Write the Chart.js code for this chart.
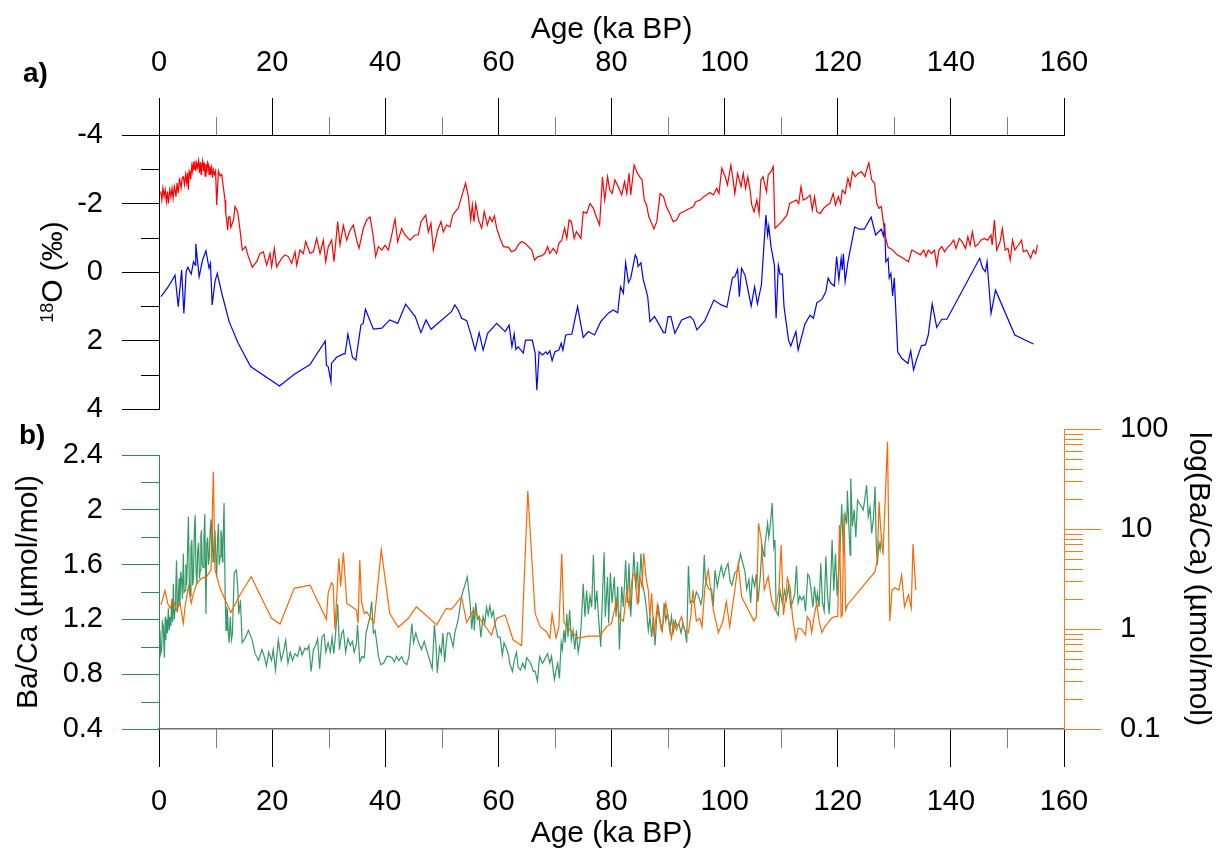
<!DOCTYPE html>
<html>
<head>
<meta charset="utf-8">
<script src="https://cdn.jsdelivr.net/npm/chart.js@4.4.1/dist/chart.umd.min.js"></script>
<style>
  html, body { margin: 0; padding: 0; background: #fff; }
  #wrap { position: relative; width: 1218px; height: 852px; }
  #wrap canvas { position: absolute; left: 0; top: 0; }
</style>
</head>
<body>
<div id="wrap">
  <canvas id="panelA" width="1218" height="852"></canvas>
  <canvas id="panelB" width="1218" height="852"></canvas>
</div>
<script>
const FONT = '"Liberation Sans", Arial, sans-serif'

// axes
const ageTicks = [0, 20, 40, 60, 80, 100, 120, 140, 160]
const ageMinor = [10, 30, 50, 70, 90, 110, 130, 150]
const d18oTicks = [-4, -2, 0, 2, 4]
const d18oMinor = [-3, -1, 1, 3]
const bacaTicks = [0.4, 0.8, 1.2, 1.6, 2.0, 2.4]
const bacaMinor = [0.6, 1.0, 1.4, 1.8, 2.2]
const logTicks = [0.1, 1, 10, 100]
const logMinor = [0.2, 0.3, 0.4, 0.5, 0.6, 0.7, 0.8, 0.9, 2, 3, 4, 5, 6, 7, 8, 9, 20, 30, 40, 50, 60, 70, 80, 90]

// a) d18O, red record  [age ka BP, permil]
const redSeries = [
  [0.3,-2.35],[0.5,-2.1],[0.7,-2.45],[0.9,-2.2],[1.1,-2.4],[1.3,-2.05],[1.5,-2.35],[1.65,-2.0],[1.9,-2.4],[2.1,-2.2],
  [2.3,-2.45],[2.5,-2.15],[2.7,-2.5],[2.83,-2.39],[3.0,-2.2],[3.2,-2.6],[3.4,-2.3],[3.6,-2.7],[3.71,-2.64],[3.9,-2.45],
  [4.1,-2.75],[4.3,-2.78],[4.5,-2.55],[4.7,-2.85],[4.9,-2.6],[5.05,-2.9],[5.19,-2.4],[5.35,-2.95],[5.48,-2.89],[5.6,-2.7],
  [5.8,-3.1],[5.95,-2.95],[6.07,-3.22],[6.2,-3.0],[6.35,-3.25],[6.5,-2.95],[6.66,-3.18],[6.8,-3.05],[7.0,-3.25],[7.15,-2.9],
  [7.3,-3.2],[7.45,-2.85],[7.54,-3.1],[7.7,-3.25],[7.85,-2.95],[8.0,-3.2],[8.15,-2.8],[8.3,-3.15],[8.45,-2.9],[8.6,-3.2],
  [8.72,-3.15],[8.85,-2.85],[9.0,-3.1],[9.15,-2.9],[9.3,-3.05],[9.45,-2.75],[9.61,-2.98],[9.8,-2.85],[10.0,-2.95],[10.2,-1.96],
  [10.5,-2.95],[10.8,-2.8],[11.08,-2.85],[11.37,-2.49],[11.67,-2.1],[11.8,-1.7],[11.96,-1.52],[12.14,-1.23],[12.3,-1.6],[12.55,-1.61],
  [12.7,-1.3],[12.96,-1.42],[13.2,-1.55],[13.44,-1.91],[13.91,-1.76],[14.32,-1.23],[14.73,-0.64],[15.32,-0.74],[15.8,-0.45],[16.5,-0.14],
  [17.27,-0.3],[17.86,-0.54],[18.45,-0.59],[19.04,-0.2],[19.63,-0.54],[19.92,-0.16],[20.39,-0.69],[20.8,-0.15],[21.69,-0.4],[22.28,-0.5],
  [22.87,-0.45],[23.46,-0.25],[24.05,-0.59],[24.34,-0.2],[24.93,-0.64],[25.52,-0.54],[25.93,-0.89],[26.7,-0.54],[27.29,-0.59],[27.88,-0.98],
  [28.47,-0.54],[29.05,-0.93],[29.47,-0.3],[29.93,-0.74],[30.53,-0.93],[30.94,-0.3],[31.59,-1.47],[32.0,-0.79],[32.59,-1.36],[33.18,-0.93],
  [33.77,-1.22],[34.36,-1.37],[34.95,-0.93],[35.36,-0.69],[36.12,-1.27],[36.72,-1.52],[37.31,-1.61],[37.89,-1.03],[38.31,-0.45],[38.78,-0.74],
  [39.37,-0.64],[39.96,-0.78],[40.55,-0.64],[41.14,-1.08],[41.73,-1.55],[42.2,-0.88],[42.9,-1.27],[43.49,-1.08],[44.38,-0.93],[45.26,-1.08],
  [45.85,-1.08],[46.32,-1.47],[47.15,-1.66],[47.62,-1.17],[48.09,-1.42],[48.5,-0.64],[49.27,-1.22],[49.86,-1.47],[50.27,-1.17],[50.86,-1.37],
  [51.45,-1.32],[51.92,-1.66],[52.62,-1.81],[52.9,-1.86],[53.5,-2.2],[54.2,-2.59],[54.7,-2.2],[55.1,-1.52],[55.4,-1.96],[55.7,-1.47],
  [56.0,-2.0],[56.5,-1.52],[57.05,-1.28],[57.5,-1.76],[58.05,-1.37],[58.5,-1.61],[58.9,-1.47],[59.3,-1.64],[59.7,-1.28],[60.3,-0.98],
  [60.9,-0.74],[61.8,-0.72],[62.3,-0.59],[63.0,-0.64],[63.5,-0.79],[64.1,-0.89],[64.7,-0.84],[65.3,-0.74],[65.9,-0.64],[66.4,-0.35],
  [67.0,-0.45],[67.6,-0.47],[68.2,-0.54],[68.7,-0.74],[69.1,-0.54],[69.7,-0.69],[70.3,-0.54],[70.7,-0.84],[71.2,-0.93],[71.7,-1.28],
  [72.1,-0.98],[72.5,-1.52],[72.9,-1.47],[73.4,-0.98],[73.8,-1.18],[74.6,-0.98],[75.0,-1.76],[75.6,-1.71],[76.2,-2.0],[76.8,-1.86],
  [77.4,-1.57],[77.9,-1.37],[78.4,-2.78],[78.8,-2.1],[79.3,-2.78],[79.7,-2.39],[80.1,-2.29],[80.6,-2.69],[81.2,-2.49],[81.8,-2.25],
  [82.3,-2.64],[82.7,-2.29],[83.1,-2.88],[83.4,-2.25],[84.0,-3.12],[84.6,-2.88],[85.0,-2.78],[85.4,-2.69],[85.8,-2.1],[86.2,-1.96],
  [86.6,-1.61],[87.1,-1.42],[87.5,-1.26],[88.0,-1.47],[88.6,-2.29],[89.2,-2.2],[89.7,-1.91],[90.3,-1.71],[90.9,-1.47],[91.5,-1.52],
  [92.1,-1.71],[92.7,-1.76],[93.3,-1.81],[93.9,-1.86],[94.5,-1.91],[94.9,-2.05],[95.7,-2.1],[96.3,-2.2],[96.8,-2.25],[97.4,-2.32],
  [98.0,-2.25],[98.6,-2.44],[99.0,-2.29],[99.5,-3.03],[100.1,-2.78],[100.5,-2.54],[101.1,-3.12],[101.5,-2.69],[101.8,-2.29],[102.3,-2.88],
  [102.9,-2.49],[103.3,-2.88],[103.7,-2.44],[104.1,-2.78],[104.5,-2.39],[104.8,-1.96],[105.2,-1.76],[105.7,-2.1],[106.1,-1.71],[106.4,-2.69],
  [106.8,-2.78],[107.4,-2.34],[107.7,-2.83],[108.2,-2.93],[108.6,-3.08],[108.9,-1.28],[109.5,-1.37],[110.1,-1.47],[111.0,-1.66],[111.5,-2.0],
  [112.1,-2.05],[112.7,-2.1],[113.1,-2.0],[113.5,-2.49],[113.9,-2.1],[114.5,-2.15],[115.1,-2.25],[115.5,-1.81],[115.9,-2.2],[116.3,-1.76],
  [116.9,-1.71],[117.5,-1.86],[118.1,-1.95],[118.6,-2.0],[119.2,-2.29],[119.6,-1.95],[120.1,-2.2],[120.5,-2.0],[120.8,-2.39],[121.3,-2.29],
  [121.8,-2.74],[122.2,-2.49],[122.6,-2.93],[123.1,-2.78],[123.6,-2.88],[124.2,-2.93],[124.8,-2.78],[125.1,-2.98],[125.5,-3.19],[126.0,-2.69],
  [126.5,-2.59],[126.9,-2.0],[127.3,-1.86],[127.7,-1.91],[128.1,-1.42],[128.5,-0.98],[128.9,-0.72],[129.6,-0.66],[130.5,-0.5],[131.3,-0.43],
  [132.5,-0.3],[133.1,-0.64],[133.7,-0.59],[134.6,-0.5],[135.2,-0.64],[135.6,-0.45],[136.0,-0.64],[136.6,-0.54],[137.1,-0.64],[137.5,-0.2],
  [137.9,-0.64],[138.4,-0.74],[138.9,-0.59],[139.5,-0.74],[139.9,-0.79],[140.5,-0.93],[140.9,-0.69],[141.5,-0.98],[142.0,-0.88],[142.6,-0.69],
  [143.0,-1.03],[143.4,-0.78],[143.8,-1.17],[144.3,-0.74],[144.9,-0.83],[145.3,-0.93],[145.9,-0.98],[146.5,-0.93],[147.1,-1.08],[147.3,-0.78],
  [147.7,-1.52],[148.1,-0.64],[148.7,-0.88],[149.1,-1.27],[149.6,-0.64],[150.1,-0.69],[150.5,-0.35],[150.9,-0.93],[151.3,-0.64],[151.9,-0.78],
  [152.5,-0.93],[152.8,-0.59],[153.4,-0.64],[154.1,-0.4],[154.6,-0.64],[155.0,-0.54],[155.3,-0.79]
]

// a) d18O, blue record
const blueSeries = [
  [0.35,0.72],[1.65,0.43],[2.83,0.09],[3.4,1.01],[4.0,-0.06],[4.4,1.21],[4.8,-0.01],[5.1,-0.14],[5.7,0.06],[6.1,-0.3],
  [6.4,-0.2],[6.5,-0.82],[7.1,0.14],[7.7,-0.35],[8.3,-0.62],[8.85,-0.11],[9.1,-0.25],[9.4,0.96],[9.9,0.28],[10.3,0.04],
  [11.1,0.62],[12.4,1.45],[14.0,2.08],[16.2,2.76],[21.3,3.33],[24.0,2.98],[26.7,2.7],[29.4,2.01],[29.6,2.72],[29.9,2.76],
  [30.4,3.2],[30.5,2.67],[31.4,2.49],[32.6,2.39],[32.9,2.39],[33.4,1.81],[34.2,2.49],[34.8,2.57],[35.7,1.55],[36.1,1.5],
  [36.5,1.09],[37.9,1.67],[39.4,1.64],[40.8,1.4],[42.2,1.5],[43.6,0.94],[45.3,1.3],[46.3,1.77],[47.2,1.4],[48.1,1.67],
  [51.7,1.16],[52.3,0.96],[52.9,1.11],[53.5,1.35],[54.4,1.42],[55.0,1.74],[55.9,2.28],[56.6,1.77],[57.3,2.28],[58.1,1.79],
  [59.7,1.5],[61.2,1.74],[61.9,1.55],[62.4,2.18],[62.8,1.81],[63.1,2.26],[63.5,2.18],[64.4,2.37],[64.8,1.99],[66.0,1.99],
  [66.5,2.37],[66.8,3.45],[67.2,2.33],[67.8,2.42],[68.4,2.33],[68.7,2.4],[69.1,2.3],[69.5,2.59],[70.0,2.33],[70.7,2.28],
  [71.1,2.08],[71.4,2.28],[71.9,1.84],[73.0,1.81],[74.0,1.01],[75.0,1.91],[75.9,1.74],[77.0,1.84],[78.1,1.45],[79.4,1.21],
  [80.3,1.11],[81.1,1.19],[81.6,0.43],[82.1,0.62],[82.5,-0.27],[83.0,0.31],[83.4,0.18],[84.2,-0.5],[84.5,-0.4],[84.7,-0.16],
  [85.2,-0.27],[85.6,0.21],[86.4,0.72],[86.8,1.45],[87.6,1.3],[88.3,1.5],[89.2,1.77],[89.5,1.77],[90.0,1.3],[90.5,1.3],
  [91.2,1.79],[92.4,1.4],[93.9,1.3],[94.5,1.4],[95.1,1.69],[96.5,1.42],[98.1,0.82],[99.4,0.96],[100.4,1.03],[101.4,0.16],
  [101.8,0.14],[102.3,-0.08],[102.6,0.72],[103.0,-0.11],[103.6,0.09],[104.7,0.99],[105.3,0.43],[105.8,0.93],[106.5,0.38],[107.3,-1.66],
  [107.6,-1.08],[107.8,-1.34],[108.2,-0.74],[108.8,-0.2],[109.1,1.35],[109.5,-0.2],[109.8,0.06],[110.2,0.06],[110.5,1.01],[111.3,1.99],
  [111.7,2.16],[112.6,1.74],[113.0,2.28],[114.2,1.52],[115.1,1.26],[115.7,1.35],[116.3,0.9],[117.2,0.8],[117.9,0.57],[118.3,0.18],
  [118.8,0.33],[119.4,0.41],[119.8,-0.45],[120.2,0.23],[120.6,-0.4],[120.8,-0.06],[121.0,-0.53],[121.3,0.28],[121.8,-0.3],[123.0,-1.32],
  [123.8,-1.25],[124.7,-1.25],[125.9,-1.6],[126.7,-1.08],[127.7,-1.25],[128.1,-1.05],[128.3,-1.42],[128.5,-0.3],[128.9,-0.4],[129.1,0.17],
  [129.4,0.04],[129.7,0.7],[130.0,0.17],[130.6,2.33],[131.3,2.52],[132.4,2.67],[132.9,2.3],[133.4,2.86],[134.0,2.52],[134.8,2.15],
  [135.5,2.13],[136.0,1.84],[136.2,1.58],[136.7,0.93],[137.5,1.62],[138.4,1.38],[139.3,1.38],[145.1,-0.4],[145.6,-0.11],[146.1,-0.01],
  [146.4,-0.3],[147.1,1.21],[147.9,0.53],[151.3,1.84],[154.6,2.1]
]

// b) Ba/Ca, green record [age, umol/mol]
const greenSeries = [
  [0.17,1.12],[0.3,0.95],[0.47,0.98],[0.6,1.18],[0.77,1.15],[0.94,0.92],[1.1,1.22],[1.2,1.05],[1.36,1.2],[1.5,1.1],
  [1.65,1.28],[1.8,1.12],[1.95,1.22],[2.1,1.15],[2.25,1.35],[2.4,1.18],[2.54,1.46],[2.7,1.2],[2.83,1.27],[2.95,1.4],
  [3.1,1.63],[3.25,1.25],[3.4,1.32],[3.55,1.5],[3.7,1.3],[3.85,1.55],[4.0,1.49],[4.15,1.35],[4.3,1.68],[4.45,1.4],
  [4.6,1.41],[4.75,1.6],[4.9,1.45],[5.05,1.7],[5.2,1.95],[5.35,1.5],[5.5,1.37],[5.65,1.72],[5.8,1.78],[5.95,1.45],
  [6.1,1.51],[6.25,1.85],[6.4,1.96],[6.55,1.55],[6.7,1.46],[6.85,1.7],[7.0,1.76],[7.15,1.5],[7.3,1.56],[7.4,1.8],
  [7.5,1.85],[7.65,1.6],[7.8,1.58],[7.95,1.8],[8.1,1.97],[8.3,1.24],[8.45,1.75],[8.6,1.8],[8.75,1.6],[8.9,1.66],
  [9.05,1.85],[9.2,1.93],[9.3,1.7],[9.4,1.9],[9.55,1.62],[9.7,1.68],[9.8,1.82],[9.9,1.85],[10.05,1.65],[10.2,1.51],
  [10.35,1.78],[10.5,1.9],[10.65,1.6],[10.8,1.66],[10.95,1.85],[11.1,1.8],[11.2,1.62],[11.3,1.71],[11.5,2.05],[11.7,1.37],
  [11.85,1.12],[12.0,1.28],[12.1,1.27],[12.25,1.1],[12.4,1.03],[12.6,1.22],[12.8,1.05],[12.97,1.09],[13.3,1.54],[13.7,1.56],
  [13.9,1.44],[14.1,1.24],[14.4,1.34],[14.7,1.03],[15.2,1.06],[15.8,1.12],[16.4,1.06],[17.0,0.95],[17.6,0.9],[18.2,0.98],
  [18.6,0.93],[19.0,0.86],[19.4,0.96],[19.9,0.9],[20.2,0.98],[20.6,0.83],[21.1,1.05],[21.6,0.9],[22.0,0.96],[22.4,1.05],
  [22.8,0.88],[23.2,0.96],[23.6,0.9],[24.05,0.95],[24.5,0.93],[24.9,1.0],[25.3,0.94],[25.8,0.99],[26.2,0.98],[26.5,1.01],
  [26.9,0.82],[27.3,0.98],[27.7,1.01],[28.05,1.06],[28.4,0.84],[28.8,1.07],[29.2,1.09],[29.5,0.96],[29.9,1.03],[30.3,0.96],
  [30.6,1.07],[30.9,0.95],[31.2,1.09],[31.6,1.31],[31.9,0.98],[32.3,1.1],[32.6,1.12],[33.0,0.96],[33.4,1.06],[33.8,1.01],
  [34.2,1.04],[34.5,0.96],[34.9,1.02],[35.1,1.16],[35.5,0.89],[35.9,0.93],[36.3,0.92],[36.6,1.1],[36.9,1.15],[37.3,1.22],
  [37.6,1.33],[37.9,1.1],[38.2,1.12],[38.5,1.03],[38.8,0.93],[39.2,0.87],[39.7,0.88],[40.3,0.93],[40.7,0.93],[41.2,0.92],
  [41.6,0.89],[42.0,0.93],[42.4,0.9],[42.9,0.93],[43.3,0.89],[43.8,0.87],[44.2,0.93],[44.7,1.17],[45.0,1.03],[45.4,1.1],
  [45.8,1.04],[46.4,0.98],[46.9,1.04],[47.3,0.98],[48.3,0.84],[48.7,1.16],[49.0,1.0],[49.2,0.81],[49.6,1.0],[49.9,0.95],
  [50.2,1.1],[50.5,0.89],[50.8,1.03],[51.0,1.1],[51.4,1.1],[52.0,1.0],[52.3,1.1],[52.9,1.2],[53.5,1.37],[54.5,1.51],
  [55.0,1.32],[55.3,1.13],[55.6,1.29],[55.75,1.12],[56.0,1.32],[56.3,1.2],[56.6,1.22],[56.9,1.07],[57.3,1.22],[57.6,1.17],
  [57.9,1.29],[58.2,1.23],[58.5,1.3],[58.8,1.22],[59.1,1.26],[59.4,1.17],[59.9,1.07],[60.3,1.07],[60.7,0.94],[61.0,1.03],
  [61.5,0.98],[61.8,0.94],[62.0,0.88],[62.5,0.82],[62.8,0.9],[63.2,0.96],[63.5,0.85],[63.9,0.83],[64.3,0.88],[64.7,0.84],
  [65.0,0.92],[65.4,0.9],[65.7,0.88],[66.2,0.82],[66.5,0.82],[66.9,0.75],[67.3,0.93],[67.8,0.88],[68.2,0.91],[68.7,0.95],
  [69.1,0.88],[69.4,0.93],[69.9,0.76],[70.2,0.83],[70.5,0.88],[70.8,0.77],[71.1,1.03],[71.3,0.98],[71.6,1.12],[71.8,1.03],
  [72.1,1.24],[72.3,1.07],[72.6,1.27],[72.9,1.05],[73.2,1.12],[73.5,0.98],[73.8,1.12],[74.1,0.96],[74.4,1.03],[74.7,1.2],
  [75.0,1.46],[75.3,1.22],[75.6,1.41],[75.9,1.24],[76.2,1.37],[76.5,1.29],[76.8,1.67],[77.1,1.27],[77.4,1.41],[77.7,1.22],
  [78.1,1.0],[78.4,1.37],[78.7,1.69],[78.9,1.22],[79.3,1.51],[79.5,1.17],[79.8,1.54],[80.1,1.32],[80.5,1.51],[80.8,1.22],
  [81.1,1.44],[81.4,0.98],[81.8,1.44],[82.1,1.29],[82.5,1.63],[82.8,1.32],[83.1,1.61],[83.4,1.22],[83.7,1.47],[83.95,1.69],
  [84.3,1.42],[84.6,1.62],[84.8,1.32],[85.2,1.68],[85.5,1.46],[85.9,1.37],[86.2,1.27],[86.5,1.12],[86.8,1.22],[87.1,1.07],
  [87.4,1.22],[87.7,1.01],[88.0,1.22],[88.3,1.29],[88.6,1.19],[89.0,1.12],[89.3,1.32],[89.6,1.19],[89.9,1.25],[90.3,1.12],
  [90.6,1.22],[90.9,1.1],[91.3,1.19],[91.6,1.15],[91.9,1.17],[92.3,1.1],[92.6,1.17],[93.0,1.12],[93.3,1.03],[93.6,1.59],
  [93.9,1.32],[94.3,1.34],[94.6,1.32],[95.0,1.4],[95.4,1.37],[95.8,1.31],[96.1,1.37],[96.4,1.67],[96.6,1.49],[96.9,1.45],
  [97.2,1.42],[97.7,1.42],[98.0,1.3],[98.3,1.56],[98.7,1.44],[99.0,1.51],[99.4,1.59],[99.8,1.51],[100.2,1.57],[100.6,1.61],
  [101.0,1.47],[101.3,1.45],[101.8,1.54],[102.3,1.56],[102.8,1.68],[103.2,1.61],[103.6,1.55],[103.9,1.42],[104.3,1.49],[104.6,1.32],
  [104.9,1.51],[105.3,1.44],[105.6,1.53],[105.9,1.33],[106.3,1.51],[106.6,1.74],[107.0,1.66],[107.1,1.74],[107.6,1.9],[107.8,1.8],
  [108.1,1.9],[108.4,2.05],[108.7,1.73],[108.9,1.78],[109.1,1.26],[109.5,1.23],[109.8,1.41],[110.2,1.32],[110.6,1.41],[110.9,1.34],
  [111.3,1.44],[111.7,1.29],[112.1,1.34],[112.4,1.39],[112.7,1.59],[113.0,1.32],[113.3,1.37],[113.6,1.34],[114.0,1.37],[114.3,1.26],
  [114.7,1.53],[115.0,1.51],[115.3,1.41],[115.6,1.29],[115.9,1.44],[116.2,1.32],[116.4,1.39],[116.7,1.29],[117.0,1.61],[117.3,1.32],
  [117.6,1.26],[117.9,1.66],[118.2,1.37],[118.5,1.24],[118.8,1.53],[119.0,1.78],[119.3,1.41],[119.6,1.68],[119.9,1.37],[120.1,1.51],
  [120.4,1.71],[120.7,2.04],[121.0,1.68],[121.3,1.97],[121.6,1.9],[121.7,2.14],[122.0,1.85],[122.2,1.67],[122.3,2.23],[122.6,1.88],
  [122.9,2.0],[123.2,1.8],[123.5,2.07],[123.8,2.05],[124.1,2.03],[124.5,2.0],[124.8,2.08],[125.1,2.18],[125.4,1.95],[125.7,2.02],
  [126.0,1.83],[126.3,1.93],[126.6,2.17],[126.8,1.76],[127.0,1.6],[127.3,1.76],[127.5,1.71],[127.8,1.82]
]

// b) Ba/Ca, orange record on the log axis
const orangeSeries = [
  [0.35,1.74],[1.06,2.42],[1.53,1.81],[1.94,1.61],[2.5,1.95],[3.1,1.55],[3.7,1.81],[4.3,1.14],[4.6,1.67],[5.2,2.65],
  [5.7,1.81],[6.1,2.27],[6.7,2.86],[7.5,3.21],[8.4,3.34],[9.2,3.89],[9.6,37.4],[9.9,3.89],[10.8,2.55],[11.7,1.95],
  [12.7,1.46],[14.3,2.19],[16.3,3.34],[19.9,1.28],[21.4,1.12],[23.9,2.55],[26.7,2.75],[29.6,1.25],[29.9,2.27],[30.5,2.9],
  [30.8,2.75],[31.1,0.99],[31.8,5.09],[32.1,2.65],[32.6,5.8],[33.2,1.81],[34.9,1.55],[35.2,1.14],[35.5,4.9],[35.8,1.88],
  [36.3,1.43],[36.7,1.49],[38.0,1.14],[39.3,6.17],[40.8,1.43],[42.3,1.04],[44.1,1.28],[45.5,1.67],[49.1,1.1],[50.8,1.61],
  [51.7,1.57],[53.5,2.1],[54.4,1.16],[55.6,1.55],[57.0,1.2],[58.8,0.87],[59.7,1.28],[61.2,1.38],[62.6,0.78],[64.1,0.68],
  [65.2,24.0],[66.5,1.43],[67.4,1.05],[68.5,0.94],[69.1,0.81],[69.5,1.41],[70.2,0.81],[70.7,1.05],[71.2,5.62],[71.6,1.16],
  [72.6,0.98],[74.1,0.81],[75.9,0.85],[77.9,0.85],[79.1,1.05],[80.0,1.14],[80.9,1.95],[81.5,1.28],[82.1,1.2],[82.7,2.45],
  [83.1,1.67],[83.7,3.34],[84.1,3.6],[84.6,1.74],[85.0,3.34],[85.4,2.65],[85.7,5.71],[86.1,3.34],[86.5,2.45],[86.8,1.33],
  [87.1,2.27],[87.5,0.85],[87.8,1.2],[88.1,1.74],[88.4,1.33],[88.8,0.98],[89.1,1.14],[89.6,1.81],[90.0,1.33],[90.6,0.81],
  [91.0,1.2],[91.5,0.98],[91.9,1.14],[92.4,1.33],[92.9,0.98],[93.6,0.92],[94.0,1.33],[94.4,2.45],[95.0,1.2],[95.6,1.28],
  [96.0,1.05],[96.5,2.55],[97.1,3.89],[98.0,1.55],[98.9,0.92],[99.7,1.2],[100.3,1.88],[100.9,1.05],[101.8,2.45],[102.4,4.54],
  [103.0,2.1],[104.2,1.55],[105.2,1.2],[105.6,1.33],[106.0,11.4],[106.5,7.76],[107.0,2.45],[107.7,3.34],[108.3,1.95],[108.9,1.55],
  [109.2,1.81],[109.6,2.45],[110.0,6.92],[110.4,1.38],[110.8,2.1],[111.1,3.25],[111.6,2.55],[112.0,1.33],[112.6,0.78],[113.0,1.02],
  [113.6,1.0],[114.3,0.87],[114.6,1.33],[115.1,1.2],[115.4,0.92],[115.9,1.43],[116.3,1.81],[116.7,1.2],[117.2,0.92],[117.7,1.05],
  [118.3,1.16],[118.9,1.28],[119.5,1.33],[120.0,1.33],[120.3,10.96],[120.6,1.33],[120.8,1.38],[121.1,14.3],[121.4,1.55],[121.7,1.74],
  [126.6,3.74],[127.0,4.9],[127.3,18.7],[127.6,9.8],[128.0,5.5],[128.8,74.7],[129.2,1.2],[129.6,2.45],[130.1,2.59],[130.8,2.45],
  [131.3,3.47],[131.8,1.67],[132.5,2.2],[133.0,1.61],[133.3,7.08],[133.8,2.45]
]

const RED = '#ff0000'
const BLUE = '#0000ff'
const GREEN = '#339966'
const GREEN_AXIS = '#2e8b57'
const ORANGE = '#ff6600'
const ORANGE_AXIS = '#ff7a1f'

function pts(series) {
    return series.map(p => ({ x: p[0], y: p[1] }))
}

function fixedTicks(values) {
    return scale => { scale.ticks = values.map(v => ({ value: v })) }
}

// short tick marks between the labelled ones
function tickMarks(ctx, scale, values, len, color, side) {
    ctx.save()
    ctx.strokeStyle = color
    ctx.lineWidth = 1
    ctx.beginPath()
    values.forEach(v => {
        const p = Math.round(scale.getPixelForValue(v)) + 0.5
        if (side == 'top') { ctx.moveTo(p, scale.bottom); ctx.lineTo(p, scale.bottom - len) }
        else if (side == 'bottom') { ctx.moveTo(p, scale.top); ctx.lineTo(p, scale.top + len) }
        else if (side == 'left') { ctx.moveTo(scale.right, p); ctx.lineTo(scale.right - len, p) }
        else { ctx.moveTo(scale.left, p); ctx.lineTo(scale.left + len, p) }
    })
    ctx.stroke()
    ctx.restore()
}

const tickFont = { family: FONT, size: 29 }
const titleFont = { family: FONT, size: 30 }

const decorA = {
    id: 'decorA',
    afterDraw(chart) {
        const ctx = chart.ctx
        const x = chart.scales.x
        const y = chart.scales.y
        tickMarks(ctx, x, ageMinor, 18, '#808080', 'top')
        tickMarks(ctx, y, d18oMinor, 18, '#000', 'left')

        ctx.save()
        ctx.fillStyle = '#000'
        ctx.textBaseline = 'alphabetic'
        ctx.font = 'bold 28px ' + FONT
        ctx.fillText('a)', 23, 82)

        // y title with raised mass number
        const big = '30px ' + FONT
        const small = '18px ' + FONT
        ctx.font = small
        const w1 = ctx.measureText('18').width
        ctx.font = big
        const w2 = ctx.measureText('O (‰)').width
        const cy = (y.top + y.bottom) / 2
        ctx.translate(62, cy + (w1 + w2) / 2)
        ctx.rotate(-Math.PI / 2)
        ctx.font = small
        ctx.fillText('18', 0, -9)
        ctx.font = big
        ctx.fillText('O (‰)', w1, 0)
        ctx.restore()
    }
}

const decorB = {
    id: 'decorB',
    afterDraw(chart) {
        const ctx = chart.ctx
        const x = chart.scales.x
        const y = chart.scales.y
        const yLog = chart.scales.yLog
        tickMarks(ctx, x, ageMinor, 19, '#808080', 'bottom')
        tickMarks(ctx, y, bacaMinor, 18, GREEN_AXIS, 'left')
        tickMarks(ctx, yLog, logMinor, 19, ORANGE_AXIS, 'right')

        // left axis line only covers the labelled range
        const top = Math.round(y.getPixelForValue(2.4))
        const bot = Math.round(y.getPixelForValue(0.4))
        ctx.save()
        ctx.strokeStyle = GREEN_AXIS
        ctx.lineWidth = 1
        ctx.beginPath()
        ctx.moveTo(y.right + 0.5, top)
        ctx.lineTo(y.right + 0.5, bot)
        ctx.stroke()

        ctx.fillStyle = '#000'
        ctx.font = 'bold 28px ' + FONT
        ctx.fillText('b)', 19, 444)

        ctx.translate(29, (top + bot) / 2)
        ctx.rotate(-Math.PI / 2)
        ctx.font = '30px ' + FONT
        ctx.textAlign = 'center'
        ctx.textBaseline = 'middle'
        ctx.fillText('Ba/Ca (µmol/mol)', 0, 0)
        ctx.restore()
    }
}

const lineStyle = { borderWidth: 1.2, pointRadius: 0, tension: 0, fill: false }

new Chart(document.getElementById('panelA'), {
    type: 'line',
    data: {
        datasets: [
            Object.assign({ data: pts(redSeries), borderColor: RED }, lineStyle),
            Object.assign({ data: pts(blueSeries), borderColor: BLUE }, lineStyle)
        ]
    },
    options: {
        responsive: false,
        animation: false,
        devicePixelRatio: 1,
        events: [],
        layout: { padding: { left: 0, top: 0, right: 154, bottom: 443 } },
        plugins: { legend: { display: false }, tooltip: { enabled: false } },
        scales: {
            x: {
                type: 'linear', position: 'top', min: 0, max: 160,
                afterBuildTicks: fixedTicks(ageTicks),
                afterFit: s => { s.height = 135 },
                ticks: { font: tickFont, color: '#000', padding: 18, maxRotation: 0, autoSkip: false },
                grid: { drawOnChartArea: false, tickLength: 37, tickColor: '#000', tickWidth: 1 },
                border: { color: '#000', width: 1 },
                title: { display: true, text: 'Age (ka BP)', font: titleFont, color: '#000', padding: { top: 12, bottom: 0 } }
            },
            y: {
                type: 'linear', position: 'left', reverse: true, min: -4, max: 4,
                afterBuildTicks: fixedTicks(d18oTicks),
                afterFit: s => { s.width = 159 },
                ticks: { font: tickFont, color: '#000', padding: 19, autoSkip: false },
                grid: { drawOnChartArea: false, tickLength: 37, tickColor: '#000', tickWidth: 1 },
                border: { color: '#000', width: 1 }
            }
        }
    },
    plugins: [decorA]
})

// left axis reaches a bit past 2.4 so the log axis can run up to 100 above it
const bacaTop = 2.59

new Chart(document.getElementById('panelB'), {
    type: 'line',
    data: {
        datasets: [
            Object.assign({ data: pts(orangeSeries), borderColor: ORANGE, yAxisID: 'yLog' }, lineStyle),
            Object.assign({ data: pts(greenSeries), borderColor: GREEN, yAxisID: 'y' }, lineStyle)
        ]
    },
    options: {
        responsive: false,
        animation: false,
        devicePixelRatio: 1,
        events: [],
        layout: { padding: { left: 0, top: 429, right: 0, bottom: 0 } },
        plugins: { legend: { display: false }, tooltip: { enabled: false } },
        scales: {
            x: {
                type: 'linear', position: 'bottom', min: 0, max: 160,
                afterBuildTicks: fixedTicks(ageTicks),
                afterFit: s => { s.height = 123 },
                ticks: { font: tickFont, color: '#000', padding: 18, maxRotation: 0, autoSkip: false },
                grid: { drawOnChartArea: false, tickLength: 38, tickColor: '#000', tickWidth: 1 },
                border: { color: '#6e6e6e', width: 1.5 },
                title: { display: true, text: 'Age (ka BP)', font: titleFont, color: '#000', padding: { top: 0, bottom: 0 } }
            },
            y: {
                type: 'linear', position: 'left', min: 0.4, max: bacaTop,
                afterBuildTicks: fixedTicks(bacaTicks),
                afterFit: s => { s.width = 159 },
                ticks: { font: tickFont, color: '#000', padding: 19, autoSkip: false, callback: v => String(+v.toFixed(1)) },
                grid: { drawOnChartArea: false, tickLength: 37, tickColor: GREEN_AXIS, tickWidth: 1 },
                border: { display: false }
            },
            yLog: {
                type: 'logarithmic', position: 'right', min: 0.1, max: 100,
                afterBuildTicks: fixedTicks(logTicks),
                afterFit: s => { s.width = 154 },
                ticks: { font: tickFont, color: '#000', padding: 19, autoSkip: false, callback: v => String(v) },
                grid: { drawOnChartArea: false, tickLength: 37, tickColor: ORANGE_AXIS, tickWidth: 1 },
                border: { color: ORANGE_AXIS, width: 1 },
                title: { display: true, text: 'log(Ba/Ca) (µmol/mol)', font: titleFont, color: '#000', padding: { top: 2, bottom: 0 } }
            }
        }
    },
    plugins: [decorB]
})
</script>
</body>
</html>
